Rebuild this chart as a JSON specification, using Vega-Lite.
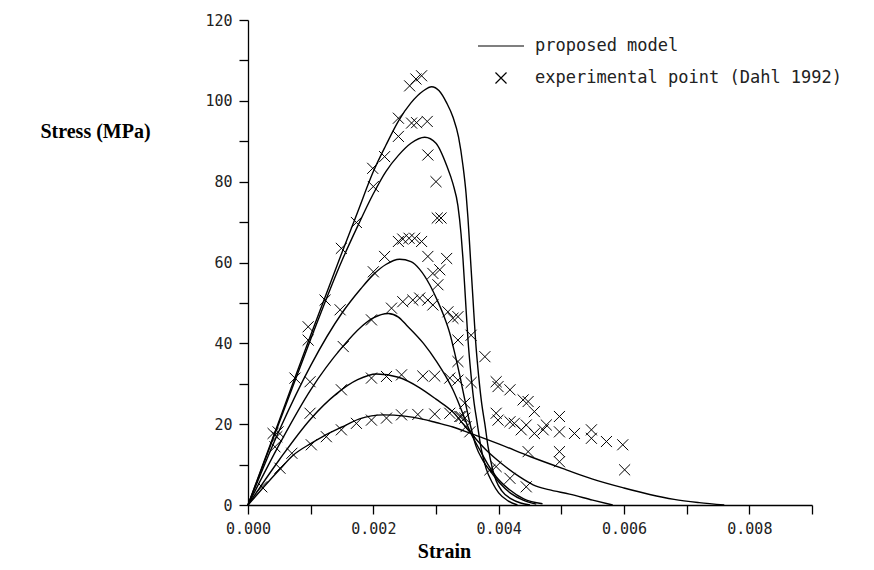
{
  "$schema": "https://vega.github.io/schema/vega-lite/v6.json",
  "width": 564,
  "height": 485,
  "autosize": {"type": "none"},
  "padding": {"left": 248, "top": 20, "right": 62, "bottom": 65},
  "background": "white",
  "config": {
    "view": {"stroke": null},
    "axis": {"grid": false, "domainColor": "black", "tickColor": "black", "labelColor": "#222", "labelFont": "DejaVu Sans Mono", "labelFontSize": 15, "labelFontWeight": "normal", "domainWidth": 1.3, "tickWidth": 1.3, "titleColor": "black", "titleFont": "Liberation Serif", "titleFontSize": 20, "titleFontWeight": "bold"}
  },
  "datasets": {
    "model": [
      {"curve": "A", "strain": 0, "stress": 0}, {"curve": "A", "strain": 0.0005, "stress": 21}, {"curve": "A", "strain": 0.001, "stress": 42}, {"curve": "A", "strain": 0.0015, "stress": 62.5}, {"curve": "A", "strain": 0.00175, "stress": 72.5}, {"curve": "A", "strain": 0.002, "stress": 82.5}, {"curve": "A", "strain": 0.0022, "stress": 89}, {"curve": "A", "strain": 0.0024, "stress": 95}, {"curve": "A", "strain": 0.0026, "stress": 99.5}, {"curve": "A", "strain": 0.0028, "stress": 102.5}, {"curve": "A", "strain": 0.00293, "stress": 103.5}, {"curve": "A", "strain": 0.00305, "stress": 102.5}, {"curve": "A", "strain": 0.00317, "stress": 99.5}, {"curve": "A", "strain": 0.00327, "stress": 96}, {"curve": "A", "strain": 0.00336, "stress": 91}, {"curve": "A", "strain": 0.00343, "stress": 84}, {"curve": "A", "strain": 0.00348, "stress": 77}, {"curve": "A", "strain": 0.00351, "stress": 71}, {"curve": "A", "strain": 0.00355, "stress": 61}, {"curve": "A", "strain": 0.00359, "stress": 51}, {"curve": "A", "strain": 0.00363, "stress": 41}, {"curve": "A", "strain": 0.00368, "stress": 32}, {"curve": "A", "strain": 0.00373, "stress": 25}, {"curve": "A", "strain": 0.00378, "stress": 20}, {"curve": "A", "strain": 0.00383, "stress": 14.5}, {"curve": "A", "strain": 0.0039, "stress": 9}, {"curve": "A", "strain": 0.00396, "stress": 6}, {"curve": "A", "strain": 0.00405, "stress": 3.5}, {"curve": "A", "strain": 0.0042, "stress": 1.5}, {"curve": "A", "strain": 0.00435, "stress": 0.5}, {"curve": "A", "strain": 0.0045, "stress": 0},
      {"curve": "B", "strain": 0, "stress": 0}, {"curve": "B", "strain": 0.0005, "stress": 20.5}, {"curve": "B", "strain": 0.001, "stress": 41}, {"curve": "B", "strain": 0.0015, "stress": 60.5}, {"curve": "B", "strain": 0.00175, "stress": 69}, {"curve": "B", "strain": 0.002, "stress": 77}, {"curve": "B", "strain": 0.0022, "stress": 82.5}, {"curve": "B", "strain": 0.0024, "stress": 86.5}, {"curve": "B", "strain": 0.0026, "stress": 89.5}, {"curve": "B", "strain": 0.00282, "stress": 91}, {"curve": "B", "strain": 0.003, "stress": 89.5}, {"curve": "B", "strain": 0.00317, "stress": 84}, {"curve": "B", "strain": 0.00327, "stress": 79.5}, {"curve": "B", "strain": 0.00335, "stress": 74}, {"curve": "B", "strain": 0.0034, "stress": 67}, {"curve": "B", "strain": 0.00343, "stress": 61}, {"curve": "B", "strain": 0.00347, "stress": 51}, {"curve": "B", "strain": 0.00351, "stress": 41}, {"curve": "B", "strain": 0.00356, "stress": 32}, {"curve": "B", "strain": 0.00361, "stress": 25}, {"curve": "B", "strain": 0.00365, "stress": 21}, {"curve": "B", "strain": 0.00372, "stress": 14}, {"curve": "B", "strain": 0.0038, "stress": 9}, {"curve": "B", "strain": 0.0039, "stress": 5.5}, {"curve": "B", "strain": 0.004, "stress": 3}, {"curve": "B", "strain": 0.00415, "stress": 1}, {"curve": "B", "strain": 0.0043, "stress": 0},
      {"curve": "C", "strain": 0, "stress": 0}, {"curve": "C", "strain": 0.0005, "stress": 18.5}, {"curve": "C", "strain": 0.001, "stress": 34.5}, {"curve": "C", "strain": 0.0015, "stress": 47.5}, {"curve": "C", "strain": 0.0018, "stress": 53.5}, {"curve": "C", "strain": 0.002, "stress": 57}, {"curve": "C", "strain": 0.0022, "stress": 59.5}, {"curve": "C", "strain": 0.00242, "stress": 60.8}, {"curve": "C", "strain": 0.0026, "stress": 60.2}, {"curve": "C", "strain": 0.00274, "stress": 58.3}, {"curve": "C", "strain": 0.0029, "stress": 54.5}, {"curve": "C", "strain": 0.00301, "stress": 51}, {"curve": "C", "strain": 0.00312, "stress": 47}, {"curve": "C", "strain": 0.00322, "stress": 42.5}, {"curve": "C", "strain": 0.0033, "stress": 37.5}, {"curve": "C", "strain": 0.00338, "stress": 32}, {"curve": "C", "strain": 0.00348, "stress": 24.5}, {"curve": "C", "strain": 0.00356, "stress": 19}, {"curve": "C", "strain": 0.00364, "stress": 14.5}, {"curve": "C", "strain": 0.00375, "stress": 11}, {"curve": "C", "strain": 0.00386, "stress": 8.5}, {"curve": "C", "strain": 0.00402, "stress": 5.4}, {"curve": "C", "strain": 0.0042, "stress": 2.8}, {"curve": "C", "strain": 0.00439, "stress": 1.2}, {"curve": "C", "strain": 0.0046, "stress": 0.2},
      {"curve": "D", "strain": 0, "stress": 0}, {"curve": "D", "strain": 0.0005, "stress": 15}, {"curve": "D", "strain": 0.001, "stress": 28.5}, {"curve": "D", "strain": 0.0015, "stress": 39}, {"curve": "D", "strain": 0.0018, "stress": 44}, {"curve": "D", "strain": 0.002, "stress": 46.3}, {"curve": "D", "strain": 0.00224, "stress": 47.4}, {"curve": "D", "strain": 0.0024, "stress": 46.5}, {"curve": "D", "strain": 0.00253, "stress": 44.5}, {"curve": "D", "strain": 0.0028, "stress": 40}, {"curve": "D", "strain": 0.00301, "stress": 35.5}, {"curve": "D", "strain": 0.00315, "stress": 32}, {"curve": "D", "strain": 0.00327, "stress": 28.5}, {"curve": "D", "strain": 0.00338, "stress": 24.5}, {"curve": "D", "strain": 0.00348, "stress": 20.5}, {"curve": "D", "strain": 0.00358, "stress": 17}, {"curve": "D", "strain": 0.0037, "stress": 13.6}, {"curve": "D", "strain": 0.00383, "stress": 10}, {"curve": "D", "strain": 0.00396, "stress": 7}, {"curve": "D", "strain": 0.00418, "stress": 3.7}, {"curve": "D", "strain": 0.0044, "stress": 1.5}, {"curve": "D", "strain": 0.0047, "stress": 0.3},
      {"curve": "E", "strain": 0, "stress": 0}, {"curve": "E", "strain": 0.0005, "stress": 11.2}, {"curve": "E", "strain": 0.001, "stress": 21.3}, {"curve": "E", "strain": 0.00141, "stress": 27.5}, {"curve": "E", "strain": 0.00175, "stress": 31}, {"curve": "E", "strain": 0.00205, "stress": 32.4}, {"curve": "E", "strain": 0.0024, "stress": 31.6}, {"curve": "E", "strain": 0.00274, "stress": 29}, {"curve": "E", "strain": 0.003, "stress": 26.2}, {"curve": "E", "strain": 0.00327, "stress": 23}, {"curve": "E", "strain": 0.00351, "stress": 18.6}, {"curve": "E", "strain": 0.0038, "stress": 13.6}, {"curve": "E", "strain": 0.00405, "stress": 10.2}, {"curve": "E", "strain": 0.00433, "stress": 7}, {"curve": "E", "strain": 0.00455, "stress": 5}, {"curve": "E", "strain": 0.0048, "stress": 3.8}, {"curve": "E", "strain": 0.00513, "stress": 2.7}, {"curve": "E", "strain": 0.0055, "stress": 1.2}, {"curve": "E", "strain": 0.00582, "stress": 0},
      {"curve": "F", "strain": 0, "stress": 0}, {"curve": "F", "strain": 0.0005, "stress": 8.7}, {"curve": "F", "strain": 0.00072, "stress": 12.3}, {"curve": "F", "strain": 0.001, "stress": 15.2}, {"curve": "F", "strain": 0.0012, "stress": 17}, {"curve": "F", "strain": 0.0015, "stress": 19.3}, {"curve": "F", "strain": 0.00178, "stress": 21.3}, {"curve": "F", "strain": 0.00216, "stress": 22.3}, {"curve": "F", "strain": 0.0025, "stress": 22}, {"curve": "F", "strain": 0.0028, "stress": 21.2}, {"curve": "F", "strain": 0.003, "stress": 20.4}, {"curve": "F", "strain": 0.00327, "stress": 19.3}, {"curve": "F", "strain": 0.00354, "stress": 17.8}, {"curve": "F", "strain": 0.0038, "stress": 16.3}, {"curve": "F", "strain": 0.00402, "stress": 15}, {"curve": "F", "strain": 0.0045, "stress": 12}, {"curve": "F", "strain": 0.00508, "stress": 8.7}, {"curve": "F", "strain": 0.0055, "stress": 6.4}, {"curve": "F", "strain": 0.006, "stress": 4.2}, {"curve": "F", "strain": 0.00641, "stress": 2.6}, {"curve": "F", "strain": 0.0068, "stress": 1.4}, {"curve": "F", "strain": 0.0072, "stress": 0.6}, {"curve": "F", "strain": 0.0076, "stress": 0}
    ],
    "exp": [
      {"strain": 0.00258, "stress": 103.7}, {"strain": 0.00268, "stress": 105.4}, {"strain": 0.00277, "stress": 106.2}, {"strain": 0.0024, "stress": 95.7}, {"strain": 0.00261, "stress": 94.5}, {"strain": 0.00269, "stress": 94.6}, {"strain": 0.00286, "stress": 94.9}, {"strain": 0.0024, "stress": 91.2}, {"strain": 0.00287, "stress": 86.6}, {"strain": 0.00218, "stress": 86.2}, {"strain": 0.00199, "stress": 83.3}, {"strain": 0.002, "stress": 78.8}, {"strain": 0.003, "stress": 80}, {"strain": 0.00173, "stress": 69.9}, {"strain": 0.00302, "stress": 71}, {"strain": 0.00308, "stress": 71}, {"strain": 0.00149, "stress": 63.5}, {"strain": 0.0024, "stress": 65.2}, {"strain": 0.00247, "stress": 65.8}, {"strain": 0.00257, "stress": 66}, {"strain": 0.00266, "stress": 66}, {"strain": 0.00277, "stress": 65.2},
      {"strain": 0.00218, "stress": 61.5}, {"strain": 0.00287, "stress": 61.5}, {"strain": 0.00317, "stress": 61}, {"strain": 0.002, "stress": 57.7}, {"strain": 0.00295, "stress": 57.3}, {"strain": 0.00306, "stress": 58.2}, {"strain": 0.00303, "stress": 54.5}, {"strain": 0.00123, "stress": 50.7}, {"strain": 0.00229, "stress": 48.7}, {"strain": 0.00247, "stress": 50.3}, {"strain": 0.00263, "stress": 50.7}, {"strain": 0.00274, "stress": 51.2}, {"strain": 0.00287, "stress": 50.7}, {"strain": 0.00295, "stress": 49.5}, {"strain": 0.00147, "stress": 48.3}, {"strain": 0.00319, "stress": 47.8}, {"strain": 0.00327, "stress": 46.2}, {"strain": 0.00335, "stress": 46.6}, {"strain": 0.00197, "stress": 45.8}, {"strain": 0.00096, "stress": 44.1}, {"strain": 0.00335, "stress": 40.8}, {"strain": 0.00096, "stress": 40.8}, {"strain": 0.00152, "stress": 39.2}, {"strain": 0.00356, "stress": 42}, {"strain": 0.00335, "stress": 35.5}, {"strain": 0.00378, "stress": 36.7}, {"strain": 0.00075, "stress": 31.4}, {"strain": 0.00099, "stress": 30.5}, {"strain": 0.00197, "stress": 31.4}, {"strain": 0.00221, "stress": 31.8}, {"strain": 0.00245, "stress": 32.2}, {"strain": 0.00279, "stress": 31.9}, {"strain": 0.00298, "stress": 31.9}, {"strain": 0.00322, "stress": 31.4}, {"strain": 0.00335, "stress": 30.9}, {"strain": 0.00356, "stress": 30.3}, {"strain": 0.00149, "stress": 28.5}, {"strain": 0.00396, "stress": 30.5}, {"strain": 0.00399, "stress": 29.3}, {"strain": 0.00418, "stress": 28.5}, {"strain": 0.00439, "stress": 26}, {"strain": 0.00447, "stress": 25.6}, {"strain": 0.00457, "stress": 23.1}, {"strain": 0.00497, "stress": 21.9}, {"strain": 0.00548, "stress": 18.6}, {"strain": 0.00572, "stress": 15.7}, {"strain": 0.00598, "stress": 14.9},
      {"strain": 0.00099, "stress": 22.7}, {"strain": 0.00048, "stress": 18.1}, {"strain": 0.00173, "stress": 20.2}, {"strain": 0.00197, "stress": 21}, {"strain": 0.00221, "stress": 21.5}, {"strain": 0.00245, "stress": 22.3}, {"strain": 0.00271, "stress": 22.4}, {"strain": 0.00298, "stress": 22.5}, {"strain": 0.00322, "stress": 22.7}, {"strain": 0.00338, "stress": 21.9}, {"strain": 0.00346, "stress": 21.5}, {"strain": 0.00396, "stress": 22.7}, {"strain": 0.00399, "stress": 21}, {"strain": 0.00418, "stress": 20.6}, {"strain": 0.00425, "stress": 20.2}, {"strain": 0.00444, "stress": 19.8}, {"strain": 0.00457, "stress": 17.7}, {"strain": 0.00471, "stress": 18.6}, {"strain": 0.00476, "stress": 19.8}, {"strain": 0.00497, "stress": 18.1}, {"strain": 0.00521, "stress": 17.7}, {"strain": 0.00548, "stress": 16.5}, {"strain": 0.00436, "stress": 18.6}, {"strain": 0.00149, "stress": 18.6}, {"strain": 0.00125, "stress": 16.9}, {"strain": 0.00101, "stress": 14.9}, {"strain": 0.00348, "stress": 19.4}, {"strain": 0.00354, "stress": 18.1}, {"strain": 0.00346, "stress": 25.2}, {"strain": 0.0034, "stress": 21.9}, {"strain": 0.0007, "stress": 12.8}, {"strain": 0.00051, "stress": 9.1}, {"strain": 0.00396, "stress": 9.5}, {"strain": 0.00418, "stress": 6.6}, {"strain": 0.00022, "stress": 4.5}, {"strain": 0.0004, "stress": 17.7}, {"strain": 0.00046, "stress": 16.9}, {"strain": 0.00043, "stress": 14.4}, {"strain": 0.00447, "stress": 13.2}, {"strain": 0.00497, "stress": 13.2}, {"strain": 0.00497, "stress": 10.7}, {"strain": 0.00386, "stress": 8.7}, {"strain": 0.00444, "stress": 4.5}, {"strain": 0.00601, "stress": 8.7}
    ]
  },
  "layer": [
    {
      "data": {"name": "model"},
      "mark": {"type": "line", "interpolate": "monotone", "color": "black", "strokeWidth": 1.4},
      "encoding": {
        "x": {
          "field": "strain", "type": "quantitative",
          "scale": {"domain": [0, 0.009], "nice": false, "zero": false},
          "axis": {
            "values": [0, 0.001, 0.002, 0.003, 0.004, 0.005, 0.006, 0.007, 0.008, 0.009],
            "labelExpr": "round(datum.value*1000) % 2 === 0 ? format(datum.value, '.3f') : ''",
            "labelOverlap": false, "labelFlush": false,
            "tickSize": 9, "labelPadding": 7,
            "title": "Strain", "titleX": 196, "titleY": 46, "titleAlign": "center", "titleBaseline": "middle",
            "encode": {"ticks": {"update": {"y2": {"signal": "round(datum.value*1000) % 2 === 0 ? 9 : 5"}}}}
          }
        },
        "y": {
          "field": "stress", "type": "quantitative",
          "scale": {"domain": [0, 120], "nice": false},
          "axis": {
            "values": [0, 10, 20, 30, 40, 50, 60, 70, 80, 90, 100, 110, 120],
            "labelExpr": "datum.value % 20 === 0 ? datum.label : ''",
            "labelOverlap": false, "labelFlush": false,
            "tickSize": 9, "labelPadding": 7,
            "title": "Stress (MPa)", "titleAngle": 0, "titleX": -153, "titleY": 111, "titleAlign": "center", "titleBaseline": "middle",
            "encode": {"ticks": {"update": {"x2": {"signal": "datum.value % 20 === 0 ? -9 : -5"}}}}
          }
        },
        "detail": {"field": "curve", "type": "nominal"}
      }
    },
    {
      "data": {"name": "exp"},
      "mark": {"type": "point", "filled": false, "color": "black", "strokeWidth": 1, "size": 2116, "opacity": 1},
      "encoding": {
        "x": {"field": "strain", "type": "quantitative"},
        "y": {"field": "stress", "type": "quantitative"},
        "shape": {
          "datum": "experimental point (Dahl 1992)", "type": "nominal",
          "scale": {"domain": ["proposed model", "experimental point (Dahl 1992)"], "range": ["stroke", "M-0.24,-0.24L0.24,0.24M0.24,-0.24L-0.24,0.24"]},
          "legend": {
            "title": null, "orient": "none", "legendX": 229, "legendY": 2, "padding": 0,
            "symbolSize": 2116, "symbolStrokeColor": "black", "symbolStrokeWidth": 1.2, "symbolFillColor": "transparent",
            "labelFont": "DejaVu Sans Mono", "labelFontSize": 17, "labelColor": "#222", "labelOffset": 10, "rowPadding": -4, "labelLimit": 0
          }
        }
      }
    }
  ]
}
